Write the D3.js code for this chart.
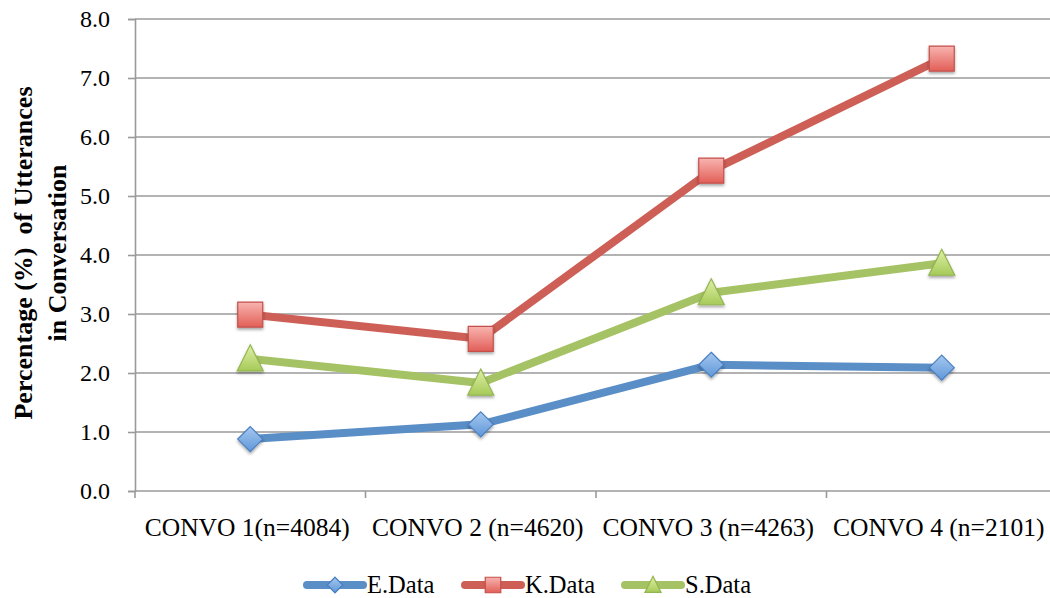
<!DOCTYPE html>
<html>
<head>
<meta charset="utf-8">
<script src="https://cdn.jsdelivr.net/npm/d3@7"></script>
<style>
  html, body { margin: 0; padding: 0; background: #fff; }
  svg { display: block; }
  text { font-family: "Liberation Serif", "DejaVu Serif", serif; fill: #000; }
</style>
</head>
<body>
<svg id="chart" width="1050" height="598"></svg>
<script>
// Conversation categories and series values (% of utterances)
const categories = ["CONVO 1(n=4084)", "CONVO 2 (n=4620)", "CONVO 3 (n=4263)", "CONVO 4 (n=2101)"];
const eData = [0.88, 1.13, 2.14, 2.09];
const kData = [2.99, 2.58, 5.43, 7.33];
const sData = [2.24, 1.83, 3.36, 3.86];
const seriesNames = ["E.Data", "K.Data", "S.Data"];
const yTicks = [0, 1, 2, 3, 4, 5, 6, 7, 8];
const yTitleLines = ["Percentage (%)  of Utterances", "in Conversation"];

const series = [
  { name: seriesNames[0], values: eData, line: "#5a8ec6", stroke: "#4a7fc0", top: "#a6c8f0", bottom: "#5f97d8", shape: "diamond" },
  { name: seriesNames[1], values: kData, line: "#cd5f57", stroke: "#c4504a", top: "#f8b4b0", bottom: "#e25f58", shape: "square" },
  { name: seriesNames[2], values: sData, line: "#a5c264", stroke: "#94b550", top: "#e0f0a8", bottom: "#a6ca58", shape: "triangle" }
];

const svg = d3.select("#chart");
const plot = { left: 135, right: 1057, top: 19, bottom: 491 };

const x = d3.scaleBand().domain(categories).range([plot.left, plot.right]);
const y = d3.scaleLinear().domain([0, 8]).range([plot.bottom, plot.top]);

// Defs: marker gradients and soft shadow
const defs = svg.append("defs");
series.forEach((s, i) => {
  const g = defs.append("linearGradient").attr("id", "grad" + i)
    .attr("x1", 0).attr("y1", 0).attr("x2", 0).attr("y2", 1);
  g.append("stop").attr("offset", "0%").attr("stop-color", s.top);
  g.append("stop").attr("offset", "100%").attr("stop-color", s.bottom);
});
const shadow = defs.append("filter").attr("id", "shadow")
  .attr("x", "-50%").attr("y", "-50%").attr("width", "200%").attr("height", "200%");
shadow.append("feDropShadow").attr("dx", 0).attr("dy", 2).attr("stdDeviation", 1.6)
  .attr("flood-color", "#000").attr("flood-opacity", 0.35);

// Horizontal gridlines
svg.append("g").selectAll("line").data(yTicks.filter(d => d > 0)).join("line")
  .attr("x1", plot.left).attr("x2", plot.right)
  .attr("y1", d => y(d)).attr("y2", d => y(d))
  .attr("stroke", "#9a9a9a").attr("stroke-width", 1.6);

// Y axis
const yAxis = svg.append("g").attr("transform", `translate(${plot.left},0)`)
  .call(d3.axisLeft(y).tickValues(yTicks).tickFormat(d3.format(".1f")).tickSize(7).tickPadding(18));
yAxis.attr("font-family", null);
yAxis.select(".domain").attr("stroke", "#9a9a9a").attr("stroke-width", 1.6);
yAxis.selectAll(".tick line").attr("stroke", "#9a9a9a").attr("stroke-width", 1.6);
yAxis.selectAll(".tick text").attr("font-size", 24).attr("fill", "#000");

// X axis with tick marks on category boundaries
const xAxisG = svg.append("g").attr("transform", `translate(0,${plot.bottom})`);
xAxisG.append("line").attr("x1", plot.left).attr("x2", plot.right)
  .attr("stroke", "#9a9a9a").attr("stroke-width", 1.6);
const bounds = categories.map(c => x(c)).concat([plot.right]);
xAxisG.selectAll("line.tk").data(bounds).join("line").attr("class", "tk")
  .attr("x1", d => d).attr("x2", d => d).attr("y1", 0).attr("y2", 7)
  .attr("stroke", "#9a9a9a").attr("stroke-width", 1.6);
xAxisG.selectAll("text").data(categories).join("text")
  .attr("x", d => x(d) + x.bandwidth() / 2 - 3).attr("y", 45)
  .attr("text-anchor", "middle").attr("font-size", 25.5)
  .text(d => d);

// Y title (two lines, rotated)
const yTitle = svg.append("text").attr("transform", "translate(0,253) rotate(-90)")
  .attr("text-anchor", "middle").attr("font-size", 26).attr("font-weight", "bold")
  .style("white-space", "pre");
yTitle.selectAll("tspan").data(yTitleLines).join("tspan")
  .attr("x", 0).attr("y", (d, i) => 32 + i * 34).text(d => d);

// Marker shapes
function markerPath(shape) {
  if (shape === "diamond") return "M0,-12.5L12.5,0L0,12.5L-12.5,0Z";
  if (shape === "square") return "M-12.5,-12.5H12.5V12.5H-12.5Z";
  return "M0,-14L13,12H-13Z";
}

// Lines and markers
const lineGen = d3.line().x((d, i) => x(categories[i]) + x.bandwidth() / 2).y(d => y(d));
series.forEach((s, i) => {
  svg.append("path").datum(s.values)
    .attr("d", lineGen).attr("fill", "none")
    .attr("stroke", s.line).attr("stroke-width", 8).attr("stroke-linejoin", "round");
});
series.forEach((s, i) => {
  svg.append("g").selectAll("path").data(s.values).join("path")
    .attr("transform", (d, j) => `translate(${x(categories[j]) + x.bandwidth() / 2},${y(d)})`)
    .attr("d", markerPath(s.shape))
    .attr("fill", `url(#grad${i})`).attr("stroke", s.stroke).attr("stroke-width", 1.2)
    .attr("filter", "url(#shadow)");
});

// Legend
const legendX = [305, 463, 623];
const legend = svg.append("g");
series.forEach((s, i) => {
  const g = legend.append("g").attr("transform", `translate(${legendX[i]},585)`);
  g.append("line").attr("x1", 2).attr("x2", 58).attr("stroke", s.line)
    .attr("stroke-width", 8).attr("stroke-linecap", "round");
  g.append("path").attr("transform", "translate(30,0) scale(0.62)")
    .attr("d", markerPath(s.shape)).attr("fill", `url(#grad${i})`)
    .attr("stroke", s.stroke).attr("stroke-width", 2);
  g.append("text").attr("x", 62).attr("y", 8).attr("font-size", 24.5).text(s.name);
});
</script>
</body>
</html>
